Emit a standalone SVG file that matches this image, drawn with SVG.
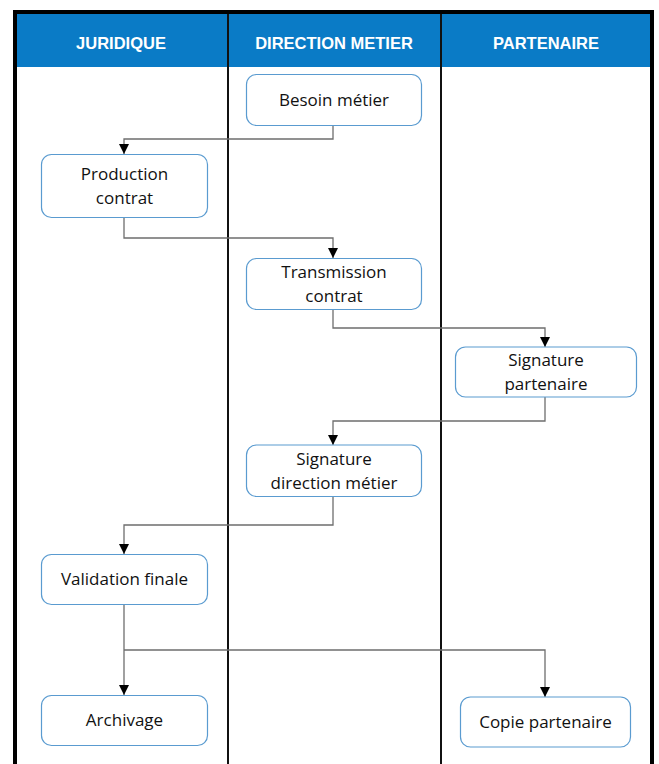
<svg xmlns="http://www.w3.org/2000/svg" width="659" height="764" viewBox="0 0 659 764">
<defs>
<style>
.hdr{fill:#0a7bc6}
.htxt{font-family:"Liberation Sans",Arial,sans-serif;font-weight:bold;font-size:16.5px;fill:#fff;text-anchor:middle;dominant-baseline:central}
.node rect{fill:#fff;stroke:#5a9bd0;stroke-width:1.2}
.node text{font-family:"Open Sans","Liberation Sans",sans-serif;font-size:17px;fill:#111;text-anchor:middle;dominant-baseline:central}
.conn path{fill:none;stroke:#6e6e6e;stroke-width:1.3}
.lane{stroke:#111;stroke-width:2;fill:none}
</style>
<marker id="arr" viewBox="0 0 10 10" refX="10" refY="5" markerWidth="10" markerHeight="10" markerUnits="userSpaceOnUse" orient="auto">
<path d="M0,0 L10,5 L0,10 z" fill="#000"/>
</marker>
</defs>
<rect x="0" y="0" width="659" height="764" fill="#fff"/>
<g id="header">
<rect class="hdr" x="15" y="12" width="637" height="55"/>
<text class="htxt" x="121" y="43">JURIDIQUE</text>
<text class="htxt" x="334" y="43">DIRECTION METIER</text>
<text class="htxt" x="546" y="43">PARTENAIRE</text>
</g>
<g id="lanes">
<line class="lane" x1="228" y1="12" x2="228" y2="764"/>
<line class="lane" x1="441" y1="12" x2="441" y2="764"/>
<path d="M15,764 V12 H652 V764" fill="none" stroke="#000" stroke-width="4"/>
</g>
<g class="conn" id="connectors">
<path d="M333,125 V139 H124 V154" marker-end="url(#arr)"/>
<path d="M124,218 V238 H333 V258" marker-end="url(#arr)"/>
<path d="M333,309 V328 H545 V347" marker-end="url(#arr)"/>
<path d="M545,397 V421 H333 V445" marker-end="url(#arr)"/>
<path d="M333,497 V525 H124 V554" marker-end="url(#arr)"/>
<path d="M124,604 V695" marker-end="url(#arr)"/>
<path d="M124,650 H545 V697" marker-end="url(#arr)"/>
</g>
<g class="node" id="besoin">
<rect x="246.5" y="74.5" width="175" height="51" rx="10"/>
<text x="334" y="99">Besoin métier</text>
</g>
<g class="node" id="production">
<rect x="41.5" y="154.5" width="166" height="63" rx="10"/>
<text x="124.5" y="173">Production</text>
<text x="124.5" y="197">contrat</text>
</g>
<g class="node" id="transmission">
<rect x="246.5" y="258.5" width="175" height="51" rx="10"/>
<text x="334" y="271">Transmission</text>
<text x="334" y="295">contrat</text>
</g>
<g class="node" id="sigpart">
<rect x="455.5" y="347" width="181" height="50" rx="10"/>
<text x="546" y="359">Signature</text>
<text x="546" y="383">partenaire</text>
</g>
<g class="node" id="sigdir">
<rect x="246.5" y="445" width="175" height="51.5" rx="10"/>
<text x="334" y="458">Signature</text>
<text x="334" y="482">direction métier</text>
</g>
<g class="node" id="validation">
<rect x="41.5" y="554.5" width="166" height="50" rx="10"/>
<text x="124.5" y="578">Validation finale</text>
</g>
<g class="node" id="archivage">
<rect x="41.5" y="695.5" width="166" height="50" rx="10"/>
<text x="124.5" y="719">Archivage</text>
</g>
<g class="node" id="copie">
<rect x="460.5" y="697" width="170" height="50" rx="10"/>
<text x="545.5" y="721">Copie partenaire</text>
</g>
</svg>
